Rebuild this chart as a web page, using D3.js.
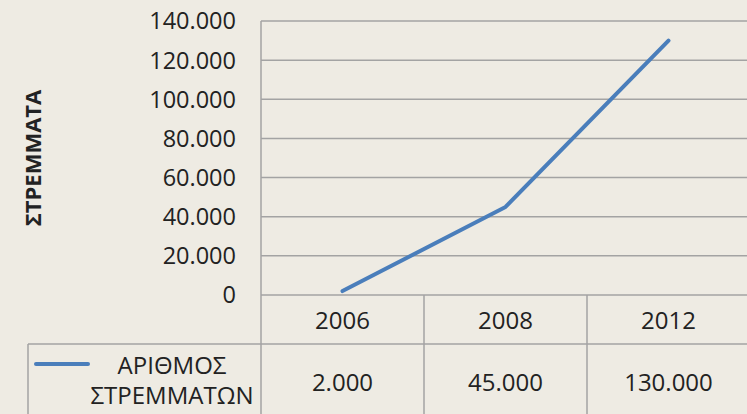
<!DOCTYPE html>
<html>
<head>
<meta charset="utf-8">
<script src="https://cdn.jsdelivr.net/npm/d3@7"></script>
<style>
  html, body { margin: 0; padding: 0; background: #eeebe3; }
  svg { display: block; }
  text { font-family: "Open Sans", sans-serif; fill: #222; }
</style>
</head>
<body>
<svg id="chart"></svg>
<script>
// data
var years = ["2006", "2008", "2012"]
var stremmata = [2000, 45000, 130000]
var yTicks = [0, 20000, 40000, 60000, 80000, 100000, 120000, 140000]
var seriesName = ["ΑΡΙΘΜΟΣ", "ΣΤΡΕΜΜΑΤΩΝ"]
var yTitle = "ΣΤΡΕΜΜΑΤΑ"

var width = 747,
  height = 414

var grid = "#a3a3a3",
  blue = "#4a7ebb"

var fmt = d3.formatLocale({
  decimal: ",",
  thousands: ".",
  grouping: [3],
  currency: ["", "€"]
}).format(",d")

var svg = d3.select("#chart")
  .attr("width", width)
  .attr("height", height)

var x = d3.scaleBand()
  .domain(years)
  .range([261, 750])
  .padding(0)

var y = d3.scaleLinear()
  .domain([0, 140000])
  .range([295, 21])

/*
 * gridlines + y labels
 */

svg.selectAll("line.grid")
  .data(yTicks)
  .enter()
  .append("line")
  .attr("class", "grid")
  .attr("x1", 261)
  .attr("x2", width)
  .attr("y1", function (d) { return y(d) })
  .attr("y2", function (d) { return y(d) })
  .style("stroke", grid)
  .style("stroke-width", 1.5)

svg.selectAll("text.ytick")
  .data(yTicks)
  .enter()
  .append("text")
  .attr("class", "ytick")
  .attr("x", 236)
  .attr("y", function (d) { return y(d) })
  .attr("dy", "0.36em")
  .attr("text-anchor", "end")
  .style("font-size", "23.5px")
  .text(function (d) { return fmt(d) })

svg.append("text")
  .attr("transform", "translate(41,158) rotate(-90)")
  .attr("text-anchor", "middle")
  .style("font-size", "22px")
  .style("font-weight", "bold")
  .text(yTitle)

/*
 * data table
 */

var rowTop = 344
// vertical lines
svg.append("line")
  .attr("x1", 261).attr("x2", 261)
  .attr("y1", y(140000)).attr("y2", height)
  .style("stroke", grid).style("stroke-width", 1.5)

svg.selectAll("line.col")
  .data(years.slice(1))
  .enter()
  .append("line")
  .attr("class", "col")
  .attr("x1", function (d) { return x(d) })
  .attr("x2", function (d) { return x(d) })
  .attr("y1", y(0))
  .attr("y2", height)
  .style("stroke", grid)
  .style("stroke-width", 1.5)

svg.append("line")
  .attr("x1", 28).attr("x2", width)
  .attr("y1", rowTop).attr("y2", rowTop)
  .style("stroke", grid).style("stroke-width", 1.5)

svg.append("line")
  .attr("x1", 28).attr("x2", 28)
  .attr("y1", rowTop).attr("y2", height)
  .style("stroke", grid).style("stroke-width", 1.5)

// header
svg.selectAll("text.year")
  .data(years)
  .enter()
  .append("text")
  .attr("class", "year")
  .attr("x", function (d) { return x(d) + x.bandwidth() / 2 })
  .attr("y", 320)
  .attr("dy", "0.36em")
  .attr("text-anchor", "middle")
  .style("font-size", "24px")
  .text(function (d) { return d })

// values
svg.selectAll("text.val")
  .data(stremmata)
  .enter()
  .append("text")
  .attr("class", "val")
  .attr("x", function (d, i) { return x(years[i]) + x.bandwidth() / 2 })
  .attr("y", 382)
  .attr("dy", "0.36em")
  .attr("text-anchor", "middle")
  .style("font-size", "24px")
  .text(function (d) { return fmt(d) })

// legend key
svg.append("line")
  .attr("x1", 36).attr("x2", 88)
  .attr("y1", 364).attr("y2", 364)
  .style("stroke", blue)
  .style("stroke-width", 4)
  .style("stroke-linecap", "round")

svg.selectAll("text.series")
  .data(seriesName)
  .enter()
  .append("text")
  .attr("class", "series")
  .attr("x", 172)
  .attr("y", function (d, i) { return 365 + i * 30 })
  .attr("dy", "0.36em")
  .attr("text-anchor", "middle")
  .style("font-size", "24px")
  .text(function (d) { return d })

/*
 * line
 */

var line = d3.line()
  .x(function (d, i) { return x(years[i]) + x.bandwidth() / 2 })
  .y(function (d) { return y(d) })

svg.append("path")
  .datum(stremmata)
  .attr("d", line)
  .style("fill", "none")
  .style("stroke", blue)
  .style("stroke-width", 4)
  .style("stroke-linecap", "round")
  .style("stroke-linejoin", "round")
</script>
</body>
</html>
